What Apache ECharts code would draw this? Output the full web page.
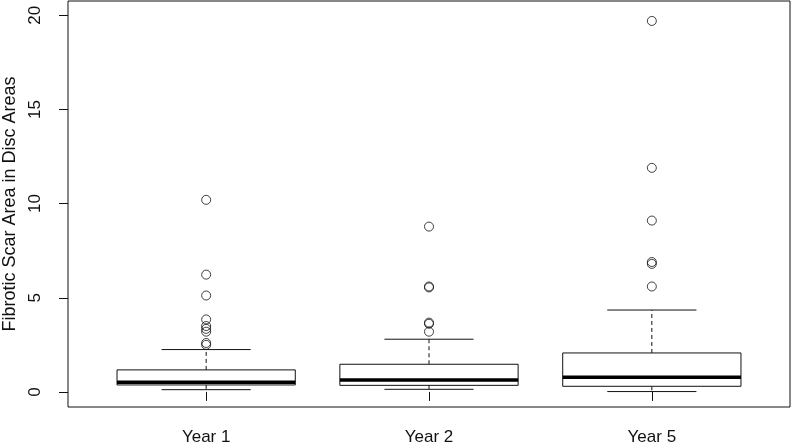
<!DOCTYPE html>
<html>
<head>
<meta charset="utf-8">
<script src="https://cdn.jsdelivr.net/npm/echarts@6/dist/echarts.min.js"></script>
<style>
    html, body { margin: 0; padding: 0; background: #fff; }
    #chart { width: 800px; height: 445px; }
</style>
</head>
<body>
<div id="chart"></div>
<script>
// categories and their positions on the x scale (R style 1..n)
var categories = ['Year 1', 'Year 2', 'Year 5'];
var positions = [1, 2, 3];

// box stats per group: lower whisker, Q1, median, Q3, upper whisker
var lowWhisker = [0.12, 0.14, 0.02];
var q1 = [0.37, 0.35, 0.30];
var medians = [0.52, 0.64, 0.78];
var q3 = [1.17, 1.47, 2.07];
var highWhisker = [2.25, 2.8, 4.35];

// outliers per group
var outliersYear1 = [10.2, 6.23, 5.12, 3.85, 3.5, 3.35, 3.2, 2.6, 2.5];
var outliersYear2 = [8.78, 5.6, 5.55, 3.68, 3.62, 3.2];
var outliersYear5 = [19.7, 11.9, 9.1, 6.9, 6.8, 5.6];

var yTicks = [0, 5, 10, 15, 20];

var boxData = [];
for (var i = 0; i < categories.length; i++) {
    boxData.push([positions[i], lowWhisker[i], q1[i], medians[i], q3[i], highWhisker[i]]);
}

var outlierData = [];
[outliersYear1, outliersYear2, outliersYear5].forEach(function (list, i) {
    list.forEach(function (v) {
        outlierData.push([positions[i], v]);
    });
});

function renderBox(params, api) {
    var x = api.value(0);
    var boxHalf = 0.4;
    var stapleHalf = 0.2;
    var pLow = api.coord([x, api.value(1)]);
    var pQ1 = api.coord([x, api.value(2)]);
    var pMed = api.coord([x, api.value(3)]);
    var pQ3 = api.coord([x, api.value(4)]);
    var pHigh = api.coord([x, api.value(5)]);
    var left = api.coord([x - boxHalf, 0])[0];
    var right = api.coord([x + boxHalf, 0])[0];
    var sLeft = api.coord([x - stapleHalf, 0])[0];
    var sRight = api.coord([x + stapleHalf, 0])[0];
    var lineStyle = { stroke: '#111', lineWidth: 1, fill: null };
    var dashStyle = { stroke: '#111', lineWidth: 1, lineDash: [4, 3] };
    return {
        type: 'group',
        children: [
            // whiskers (dashed)
            { type: 'line', shape: { x1: pQ3[0], y1: pQ3[1], x2: pHigh[0], y2: pHigh[1] }, style: dashStyle },
            { type: 'line', shape: { x1: pQ1[0], y1: pQ1[1], x2: pLow[0], y2: pLow[1] }, style: dashStyle },
            // staples
            { type: 'line', shape: { x1: sLeft, y1: pHigh[1], x2: sRight, y2: pHigh[1] }, style: lineStyle },
            { type: 'line', shape: { x1: sLeft, y1: pLow[1], x2: sRight, y2: pLow[1] }, style: lineStyle },
            // box
            { type: 'rect', shape: { x: left, y: pQ3[1], width: right - left, height: pQ1[1] - pQ3[1] },
              style: { stroke: '#111', lineWidth: 1, fill: '#fff' } },
            // median
            { type: 'line', shape: { x1: left, y1: pMed[1], x2: right, y2: pMed[1] },
              style: { stroke: '#000', lineWidth: 3.5 } }
        ]
    };
}

var chart = echarts.init(document.getElementById('chart'));

var option = {
    animation: false,
    backgroundColor: '#fff',
    textStyle: { fontFamily: 'Liberation Sans, Arial, sans-serif' },
    grid: {
        left: 68, right: 10, top: 1, bottom: 38,
        outerBoundsMode: 'none',
        containLabel: false,
        show: true, borderColor: '#111', borderWidth: 1
    },
    xAxis: {
        type: 'value',
        min: 0.38,
        max: 3.62,
        splitLine: { show: false },
        axisLine: { show: false },
        axisTick: { show: true, length: 9, customValues: positions, lineStyle: { color: '#111' } },
        axisLabel: {
            customValues: positions,
            margin: 22,
            fontSize: 17,
            color: '#111',
            formatter: function (v) {
                var idx = positions.indexOf(v);
                return idx >= 0 ? categories[idx] : '';
            }
        }
    },
    yAxis: {
        type: 'value',
        min: -0.8,
        max: 20.76,
        name: 'Fibrotic Scar Area in Disc Areas',
        nameLocation: 'middle',
        nameRotate: 90,
        nameGap: 49,
        nameTextStyle: { fontSize: 18, color: '#111' },
        splitLine: { show: false },
        axisLine: { show: false },
        axisTick: { show: true, length: 9, customValues: yTicks, lineStyle: { color: '#111' } },
        axisLabel: {
            customValues: yTicks,
            rotate: 90,
            margin: 24,
            fontSize: 17,
            color: '#111'
        }
    },
    series: [{
        type: 'custom',
        renderItem: renderBox,
        data: boxData,
        encode: { x: 0, y: [1, 2, 3, 4, 5] },
        z: 2
    }, {
        type: 'scatter',
        data: outlierData,
        symbol: 'circle',
        symbolSize: 9,
        itemStyle: { color: 'rgba(0,0,0,0)', borderColor: '#111', borderWidth: 1 },
        z: 3
    }]
};

chart.setOption(option);
</script>
</body>
</html>
